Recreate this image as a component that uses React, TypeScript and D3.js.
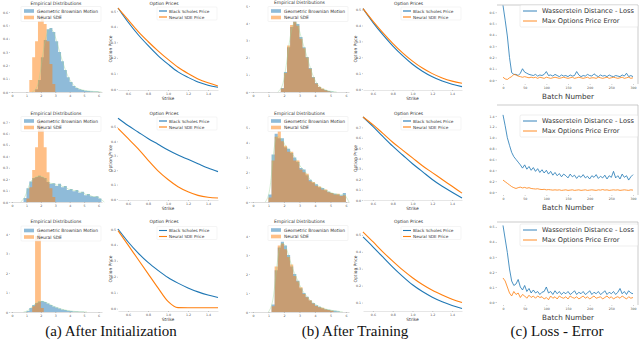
import * as d3 from "d3";
import { useEffect, useRef } from "react";

const BLUE = "#1f77b4";
const ORANGE = "#ff7f0e";
const FONT = "DejaVu Sans, sans-serif";

// ---- histograms (bin width 0.2, each series = first bin edge + bin heights) ----
const binWidth = 0.2;
const histXTicks = [0, 1, 2, 3, 4, 5, 6];

const gbmInit1Start = 1.6;
const gbmInit1 = [0.02, 0.09, 0.26, 0.39, 0.47, 0.48, 0.45, 0.38, 0.3, 0.23, 0.165, 0.11, 0.075, 0.045, 0.03, 0.02, 0.015, 0.01, 0.008, 0.005, 0.004, 0.003];
const sdeInit1Start = 1.2;
const sdeInit1 = [0.09, 0.26, 0.38, 0.53, 0.58, 0.51, 0.38, 0.21, 0.06];

const gbmInit2Start = 0.8;
const gbmInit2 = [0.035, 0.12, 0.18, 0.21, 0.22, 0.23, 0.22, 0.21, 0.175, 0.16, 0.165, 0.14, 0.16, 0.13, 0.14, 0.105, 0.115, 0.095, 0.105, 0.08, 0.09, 0.06, 0.07, 0.05, 0.045, 0.05, 0.03];
const sdeInit2Start = 1.0;
const sdeInit2 = [0.03, 0.13, 0.28, 0.48, 0.7, 0.67, 0.48, 0.26, 0.12, 0.044];

const gbmInit3Start = 1.0;
const gbmInit3 = [0.05, 0.2, 0.36, 0.46, 0.54, 0.56, 0.51, 0.44, 0.36, 0.28, 0.23, 0.18, 0.13, 0.1, 0.07, 0.05, 0.03, 0.02, 0.015, 0.01];
const sdeInit3Start = 1.4;
const sdeInit3 = [0.3, 3.9, 4.05, 0.2];

const gbmTrain1Start = 1.8;
const gbmTrain1 = [0.23, 1.16, 2.6, 3.78, 4.13, 3.95, 3.2, 2.6, 2.03, 1.4, 0.87, 0.52, 0.29, 0.17, 0.12, 0.06, 0.03];
const sdeTrain1Start = 1.8;
const sdeTrain1 = [0.2, 1.1, 2.7, 3.9, 4.1, 3.85, 3.1, 2.55, 2.0, 1.35, 0.85, 0.5, 0.3, 0.2, 0.1, 0.05];

const gbmTrain2Start = 1.0;
const gbmTrain2 = [0.5, 3.2, 4.6, 4.3, 4.3, 3.7, 3.6, 3.3, 3.0, 2.7, 2.3, 2.2, 1.8, 1.5, 1.3, 1.2, 1.0, 0.95, 0.8, 0.7, 0.6, 0.55, 0.5, 0.45, 0.6];
const sdeTrain2Start = 1.0;
const sdeTrain2 = [0.3, 2.8, 4.4, 4.8, 4.1, 3.8, 3.4, 3.4, 2.8, 2.8, 2.2, 2.0, 1.9, 1.4, 1.35, 1.1, 1.05, 0.85, 0.85, 0.65, 0.6, 0.5, 0.55, 0.4, 0.45];

const gbmTrain3Start = 1.2;
const gbmTrain3 = [0.4, 2.2, 3.4, 3.7, 3.5, 3.0, 2.4, 2.0, 1.65, 1.25, 1.0, 0.8, 0.6, 0.48, 0.36, 0.28, 0.2, 0.15, 0.12, 0.08, 0.06, 0.04];
const sdeTrain3Start = 1.2;
const sdeTrain3 = [0.3, 2.4, 3.5, 3.6, 3.3, 2.9, 2.5, 1.9, 1.6, 1.3, 0.95, 0.78, 0.62, 0.45, 0.32, 0.25, 0.22, 0.14, 0.1, 0.07];

// ---- option prices against strike ----
const strikes = [0.5, 0.6, 0.7, 0.8, 0.9, 1.0, 1.1, 1.2, 1.3, 1.4, 1.5];
const strikeTicks = [0.6, 0.8, 1.0, 1.2, 1.4];

const bsInit1 = [0.52, 0.43, 0.35, 0.28, 0.215, 0.16, 0.11, 0.075, 0.045, 0.025, 0.012];
const nsInit1 = [0.52, 0.445, 0.37, 0.305, 0.245, 0.19, 0.14, 0.1, 0.065, 0.04, 0.02];
const bsInit2 = [0.56, 0.51, 0.465, 0.42, 0.38, 0.34, 0.305, 0.275, 0.245, 0.215, 0.19];
const nsInit2 = [0.49, 0.42, 0.35, 0.27, 0.195, 0.135, 0.085, 0.05, 0.025, 0.012, 0.007];
const bsInit3 = [0.5, 0.42, 0.35, 0.29, 0.24, 0.195, 0.16, 0.13, 0.105, 0.085, 0.07];
const nsInit3 = [0.49, 0.4, 0.31, 0.22, 0.13, 0.045, 0.006, 0.005, 0.005, 0.005, 0.005];

const bsTrain1 = [0.506, 0.42, 0.342, 0.272, 0.21, 0.156, 0.112, 0.077, 0.05, 0.03, 0.015];
const nsTrain1 = [0.506, 0.428, 0.355, 0.288, 0.228, 0.176, 0.132, 0.097, 0.07, 0.05, 0.036];
const bsTrain2 = [0.8, 0.71, 0.613, 0.519, 0.434, 0.349, 0.274, 0.198, 0.132, 0.075, 0.019];
const nsTrain2 = [0.8, 0.726, 0.642, 0.557, 0.481, 0.406, 0.33, 0.264, 0.198, 0.132, 0.066];
const bsTrain3 = [0.488, 0.43, 0.37, 0.31, 0.255, 0.205, 0.165, 0.132, 0.105, 0.083, 0.065];
const nsTrain3 = [0.518, 0.46, 0.4, 0.345, 0.293, 0.247, 0.207, 0.173, 0.145, 0.12, 0.1];

// ---- training curves, one value every 5 batches ----
const batchStep = 5;
const batchTicks = [0, 50, 100, 150, 200, 250, 300];

const lossRun1 = [0.66, 0.53, 0.39, 0.2, 0.065, 0.05, 0.05, 0.04, 0.06, 0.1, 0.07, 0.06, 0.05, 0.045, 0.04, 0.05, 0.035, 0.045, 0.04, 0.05, 0.075, 0.04, 0.045, 0.035, 0.05, 0.04, 0.03, 0.045, 0.035, 0.04, 0.03, 0.045, 0.035, 0.04, 0.075, 0.045, 0.03, 0.04, 0.035, 0.05, 0.04, 0.035, 0.055, 0.04, 0.03, 0.045, 0.035, 0.04, 0.03, 0.045, 0.035, 0.03, 0.04, 0.035, 0.03, 0.045, 0.035, 0.06, 0.03, 0.04, 0.03];
const errRun1 = [0.025, 0.01, 0.005, 0.02, 0.03, 0.05, 0.045, 0.035, 0.03, 0.025, 0.03, 0.025, 0.02, 0.025, 0.02, 0.025, 0.015, 0.025, 0.02, 0.015, 0.025, 0.02, 0.015, 0.02, 0.025, 0.02, 0.015, 0.02, 0.025, 0.02, 0.015, 0.02, 0.025, 0.015, 0.02, 0.025, 0.02, 0.015, 0.02, 0.025, 0.015, 0.02, 0.02, 0.015, 0.025, 0.02, 0.015, 0.02, 0.025, 0.015, 0.02, 0.025, 0.02, 0.015, 0.02, 0.025, 0.015, 0.02, 0.025, 0.015, 0.02];

const lossRun2 = [1.42, 1.22, 1.0, 0.86, 0.73, 0.65, 0.6, 0.55, 0.5, 0.44, 0.5, 0.42, 0.47, 0.4, 0.45, 0.38, 0.43, 0.36, 0.41, 0.35, 0.4, 0.33, 0.38, 0.31, 0.36, 0.3, 0.34, 0.28, 0.33, 0.3, 0.26, 0.33, 0.28, 0.31, 0.25, 0.3, 0.27, 0.32, 0.26, 0.29, 0.24, 0.3, 0.27, 0.32, 0.25, 0.29, 0.26, 0.31, 0.24, 0.3, 0.27, 0.38, 0.26, 0.3, 0.24, 0.33, 0.27, 0.3, 0.22, 0.28, 0.32];
const errRun2 = [0.22, 0.19, 0.16, 0.13, 0.1, 0.08, 0.065, 0.08, 0.09, 0.075, 0.085, 0.07, 0.08, 0.065, 0.06, 0.055, 0.06, 0.05, 0.045, 0.05, 0.04, 0.045, 0.04, 0.035, 0.04, 0.035, 0.04, 0.03, 0.035, 0.04, 0.03, 0.035, 0.04, 0.03, 0.035, 0.04, 0.03, 0.035, 0.04, 0.03, 0.035, 0.04, 0.035, 0.03, 0.04, 0.035, 0.045, 0.035, 0.04, 0.03, 0.035, 0.04, 0.035, 0.04, 0.03, 0.035, 0.04, 0.035, 0.03, 0.04, 0.035];

const lossRun3 = [0.51, 0.42, 0.33, 0.22, 0.14, 0.11, 0.12, 0.15, 0.1, 0.08, 0.11, 0.07, 0.09, 0.06, 0.08, 0.06, 0.07, 0.05, 0.065, 0.07, 0.1, 0.06, 0.07, 0.05, 0.075, 0.055, 0.07, 0.05, 0.065, 0.055, 0.07, 0.05, 0.06, 0.075, 0.05, 0.065, 0.055, 0.07, 0.05, 0.06, 0.075, 0.05, 0.065, 0.055, 0.07, 0.05, 0.06, 0.075, 0.05, 0.065, 0.055, 0.07, 0.05, 0.065, 0.09, 0.055, 0.07, 0.05, 0.075, 0.06, 0.055];
const errRun3 = [0.16, 0.14, 0.1, 0.06, 0.04, 0.07, 0.05, 0.06, 0.03, 0.05, 0.04, 0.025, 0.045, 0.03, 0.04, 0.025, 0.04, 0.03, 0.035, 0.02, 0.03, 0.015, 0.04, 0.025, 0.035, 0.02, 0.04, 0.03, 0.025, 0.035, 0.02, 0.04, 0.03, 0.025, 0.035, 0.02, 0.03, 0.04, 0.025, 0.035, 0.02, 0.03, 0.04, 0.025, 0.03, 0.035, 0.02, 0.03, 0.04, 0.025, 0.035, 0.02, 0.03, 0.035, 0.025, 0.04, 0.03, 0.02, 0.035, 0.025, 0.03];

const captions = ["(a) After Initialization", "(b) After Training", "(c) Loss - Error"];

// ---- layout (pixels) ----
const histPanels = [
  { gbm: [gbmInit1Start, gbmInit1], sde: [sdeInit1Start, sdeInit1], left: 10, right: 102, top: 8, bottom: 92, titleY: 5, legendY: 6.5, xDomain: [-0.14, 6.24], yMax: 0.63, yTicks: [0, 0.1, 0.2, 0.3, 0.4, 0.5, 0.6], fmt: ".1f" },
  { gbm: [gbmInit2Start, gbmInit2], sde: [sdeInit2Start, sdeInit2], left: 10, right: 102, top: 117, bottom: 202, titleY: 114.5, legendY: 116.5, xDomain: [-0.14, 6.24], yMax: 0.745, yTicks: [0, 0.1, 0.2, 0.3, 0.4, 0.5, 0.6, 0.7], fmt: ".1f" },
  { gbm: [gbmInit3Start, gbmInit3], sde: [sdeInit3Start, sdeInit3], left: 10, right: 102, top: 225, bottom: 312, titleY: 222.5, legendY: 226, xDomain: [-0.14, 6.24], yMax: 4.46, yTicks: [0, 1, 2, 3, 4], fmt: "d" },
  { gbm: [gbmTrain1Start, gbmTrain1], sde: [sdeTrain1Start, sdeTrain1], left: 250, right: 349, top: 6, bottom: 92, titleY: 4, legendY: 6.5, xDomain: [-0.19, 6.2], yMax: 5, yTicks: [0, 1, 2, 3, 4, 5], fmt: "d" },
  { gbm: [gbmTrain2Start, gbmTrain2], sde: [sdeTrain2Start, sdeTrain2], left: 250, right: 349, top: 118, bottom: 202, titleY: 114.5, legendY: 116.5, xDomain: [-0.19, 6.2], yMax: 5.67, yTicks: [0, 1, 2, 3, 4, 5], fmt: "d" },
  { gbm: [gbmTrain3Start, gbmTrain3], sde: [sdeTrain3Start, sdeTrain3], left: 250, right: 349, top: 225, bottom: 312, titleY: 222.5, legendY: 225.5, xDomain: [-0.19, 6.2], yMax: 4.58, yTicks: [0, 1, 2, 3, 4], fmt: "d" },
];

const optionPanels = [
  { bs: bsInit1, ns: nsInit1, left: 118, right: 218, top: 8, bottom: 90, titleY: 5, legendY: 7, yDomain: [-0.006, 0.52], yTicks: [0, 0.1, 0.2, 0.3, 0.4, 0.5] },
  { bs: bsInit2, ns: nsInit2, left: 118, right: 218, top: 117, bottom: 200, titleY: 114.5, legendY: 117, yDomain: [-0.007, 0.569], yTicks: [0, 0.1, 0.2, 0.3, 0.4, 0.5] },
  { bs: bsInit3, ns: nsInit3, left: 118, right: 218, top: 227, bottom: 311, titleY: 222.5, legendY: 226.5, yDomain: [-0.015, 0.5125], yTicks: [0, 0.1, 0.2, 0.3, 0.4, 0.5] },
  { bs: bsTrain1, ns: nsTrain1, left: 363, right: 462, top: 8, bottom: 90, titleY: 5, legendY: 7, yDomain: [-0.006, 0.51], yTicks: [0, 0.1, 0.2, 0.3, 0.4, 0.5] },
  { bs: bsTrain2, ns: nsTrain2, left: 363, right: 462, top: 117, bottom: 200, titleY: 114.5, legendY: 117, yDomain: [0, 0.8], yTicks: [0, 0.1, 0.2, 0.3, 0.4, 0.5, 0.6, 0.7] },
  { bs: bsTrain3, ns: nsTrain3, left: 363, right: 462, top: 227, bottom: 311, titleY: 222.5, legendY: 226.5, yDomain: [0.05, 0.547], yTicks: [0.1, 0.2, 0.3, 0.4, 0.5] },
];

const lossPanels = [
  { loss: lossRun1, err: errRun1, top: 5, bottom: 84, yDomain: [-0.035, 0.664], yTicks: [0, 0.1, 0.2, 0.3, 0.4, 0.5, 0.6], legendY: 11 },
  { loss: lossRun2, err: errRun2, top: 105, bottom: 195, yDomain: [-0.055, 1.602], yTicks: [0, 0.2, 0.4, 0.6, 0.8, 1.0, 1.2, 1.4], legendY: 121 },
  { loss: lossRun3, err: errRun3, top: 222, bottom: 305, yDomain: [-0.02, 0.533], yTicks: [0, 0.1, 0.2, 0.3, 0.4, 0.5], legendY: 230 },
];

const captionX = [111, 355, 557];

type Sel = d3.Selection<SVGGElement, unknown, null, undefined>;

function styleAxis(ax: Sel, fs = 3.2) {
  ax.attr("font-family", FONT).attr("font-size", fs);
  ax.selectAll("text").attr("fill", "#555");
  ax.selectAll(".tick line").attr("stroke", "#888").attr("stroke-width", 0.4);
}

function drawHist(svg: Sel, p: any) {
  const x = d3.scaleLinear().domain(p.xDomain).range([p.left, p.right]);
  const y = d3.scaleLinear().domain([0, p.yMax]).range([p.bottom, p.top]);
  const g = svg.append("g");
  const area = d3
    .area<number[]>()
    .x((d) => x(d[0]))
    .y0(y(0))
    .y1((d) => y(d[1]))
    .curve(d3.curveStepAfter);
  const series: [any, string][] = [
    [p.gbm, BLUE],
    [p.sde, ORANGE],
  ];
  series.forEach(([[start, vals], color]) => {
    const pts = vals.map((v: number, i: number) => [start + i * binWidth, v]);
    pts.push([start + vals.length * binWidth, vals[vals.length - 1]]);
    g.append("path").attr("d", area(pts)).attr("fill", color).attr("fill-opacity", 0.5);
  });
  // faint density outline over the GBM sample
  const [gs, gv] = p.gbm;
  const kde = [[gs - binWidth, 0], ...gv.map((v: number, i: number) => [gs + (i + 0.5) * binWidth, v]), [gs + (gv.length + 1) * binWidth, 0]];
  const line = d3.line<number[]>().x((d) => x(d[0])).y((d) => y(d[1])).curve(d3.curveBasis);
  g.append("path").attr("d", line(kde)).attr("fill", "none").attr("stroke", "#9bd696").attr("stroke-width", 0.6).attr("opacity", 0.7);

  const ax = g
    .append("g")
    .attr("transform", `translate(0,${p.bottom})`)
    .call(d3.axisBottom(x).tickValues(histXTicks).tickSize(1).tickSizeOuter(0).tickPadding(1.5).tickFormat(d3.format("d")));
  styleAxis(ax);
  ax.select(".domain").attr("stroke", "#bbb").attr("stroke-width", 0.5);
  const ay = g
    .append("g")
    .attr("transform", `translate(${p.left},0)`)
    .call(d3.axisLeft(y).tickValues(p.yTicks).tickSize(1).tickPadding(1).tickFormat(d3.format(p.fmt)));
  styleAxis(ay);
  ay.select(".domain").remove();

  g.append("text")
    .attr("x", (p.left + p.right) / 2)
    .attr("y", p.titleY)
    .attr("text-anchor", "middle")
    .attr("font-family", FONT)
    .attr("font-size", 4.5)
    .attr("fill", "#333")
    .text("Empirical Distributions");

  // legend
  const lx = p.right - 81;
  const ly = p.legendY;
  const lg = g.append("g").attr("font-family", FONT).attr("font-size", 4.4).attr("fill", "#333");
  lg.append("rect").attr("x", lx).attr("y", ly).attr("width", 80).attr("height", 15).attr("rx", 1).attr("fill", "white").attr("fill-opacity", 0.8).attr("stroke", "#e2e2e2").attr("stroke-width", 0.4);
  [["Geometric Brownian Motion", BLUE], ["Neural SDE", ORANGE]].forEach(([label, color], i) => {
    const cy = ly + 4.5 + i * 6.5;
    lg.append("rect").attr("x", lx + 3).attr("y", cy - 1.8).attr("width", 10).attr("height", 3.6).attr("fill", color).attr("fill-opacity", 0.5);
    lg.append("text").attr("x", lx + 16).attr("y", cy + 1.6).text(label);
  });
}

function drawOption(svg: Sel, p: any) {
  const x = d3.scaleLinear().domain([0.5, 1.5]).range([p.left, p.right]);
  const y = d3.scaleLinear().domain(p.yDomain).range([p.bottom, p.top]);
  const g = svg.append("g");
  const line = d3
    .line<number>()
    .x((_, i) => x(strikes[i]))
    .y((d) => y(d))
    .curve(d3.curveMonotoneX);
  g.append("path").attr("d", line(p.bs)).attr("fill", "none").attr("stroke", BLUE).attr("stroke-width", 1.1);
  g.append("path").attr("d", line(p.ns)).attr("fill", "none").attr("stroke", ORANGE).attr("stroke-width", 1.1);

  const ax = g
    .append("g")
    .attr("transform", `translate(0,${p.bottom})`)
    .call(d3.axisBottom(x).tickValues(strikeTicks).tickSize(1).tickSizeOuter(0).tickPadding(1.5).tickFormat(d3.format(".1f")));
  styleAxis(ax);
  ax.select(".domain").attr("stroke", "#ccc").attr("stroke-width", 0.5);
  const ay = g
    .append("g")
    .attr("transform", `translate(${p.left},0)`)
    .call(d3.axisLeft(y).tickValues(p.yTicks).tickSize(1).tickPadding(1).tickFormat(d3.format(".1f")));
  styleAxis(ay);
  ay.select(".domain").remove();

  const txt = (sel: any) => sel.attr("font-family", FONT).attr("font-size", 4.4).attr("fill", "#333").attr("text-anchor", "middle");
  g.append("text").call(txt).attr("x", (p.left + p.right) / 2 - 4).attr("y", p.titleY).text("Option Prices");
  g.append("text").call(txt).attr("x", (p.left + p.right) / 2).attr("y", p.bottom + 10).text("Strike");
  g.append("text")
    .call(txt)
    .attr("transform", `translate(${p.left - 6},${(p.top + p.bottom) / 2}) rotate(-90)`)
    .text("Option Price");

  const lx = p.right - 61;
  const ly = p.legendY;
  const lg = g.append("g").attr("font-family", FONT).attr("font-size", 4.2).attr("fill", "#333");
  lg.append("rect").attr("x", lx).attr("y", ly).attr("width", 60).attr("height", 13).attr("rx", 1).attr("fill", "white").attr("fill-opacity", 0.8).attr("stroke", "#e6e6e6").attr("stroke-width", 0.4);
  [["Black Scholes Price", BLUE], ["Neural SDE Price", ORANGE]].forEach(([label, color], i) => {
    const cy = ly + 4 + i * 6;
    lg.append("line").attr("x1", lx + 2).attr("x2", lx + 10).attr("y1", cy).attr("y2", cy).attr("stroke", color).attr("stroke-width", 1.1);
    lg.append("text").attr("x", lx + 12).attr("y", cy + 1.5).text(label);
  });
}

function drawLoss(svg: Sel, p: any) {
  const x = d3.scaleLinear().domain([0, 300]).range([503, 633]);
  const y = d3.scaleLinear().domain(p.yDomain).range([p.bottom, p.top]);
  const g = svg.append("g");
  g.append("path").attr("d", `M497,${p.top}H638V${p.bottom}`).attr("fill", "none").attr("stroke", "#b5b5b5").attr("stroke-width", 0.7);
  const line = d3
    .line<number>()
    .x((_, i) => x(i * batchStep))
    .y((d) => y(d));
  g.append("path").attr("d", line(p.loss)).attr("fill", "none").attr("stroke", BLUE).attr("stroke-width", 0.8);
  g.append("path").attr("d", line(p.err)).attr("fill", "none").attr("stroke", ORANGE).attr("stroke-width", 0.8);

  const ax = g
    .append("g")
    .attr("transform", `translate(0,${p.bottom})`)
    .call(d3.axisBottom(x).tickValues(batchTicks).tickSize(1).tickSizeOuter(0).tickPadding(1.5).tickFormat(d3.format("d")));
  styleAxis(ax);
  ax.select(".domain").remove();
  const ay = g
    .append("g")
    .attr("transform", `translate(497,0)`)
    .call(d3.axisLeft(y).tickValues(p.yTicks).tickSize(1.5).tickPadding(1).tickFormat(d3.format(".1f")));
  styleAxis(ay);
  ay.select(".domain").remove();

  g.append("text")
    .attr("x", 568)
    .attr("y", p.bottom + 14.5)
    .attr("text-anchor", "middle")
    .attr("font-family", FONT)
    .attr("font-size", 7.2)
    .attr("fill", "#333")
    .text("Batch Number");

  const lg = g.append("g").attr("font-family", FONT).attr("font-size", 6.6).attr("fill", "#333");
  lg.append("rect").attr("x", 520).attr("y", p.legendY - 6).attr("width", 118).attr("height", 22).attr("rx", 1.5).attr("fill", "white").attr("fill-opacity", 0.85).attr("stroke", "#dcdcdc").attr("stroke-width", 0.5);
  [["Wasserstein Distance - Loss", BLUE], ["Max Options Price Error", ORANGE]].forEach(([label, color], i) => {
    const cy = p.legendY + i * 10;
    lg.append("line").attr("x1", 523).attr("x2", 537).attr("y1", cy).attr("y2", cy).attr("stroke", color).attr("stroke-width", 0.9);
    lg.append("text").attr("x", 542).attr("y", cy + 2.3).text(label);
  });
}

export default function App() {
  const ref = useRef<SVGSVGElement>(null);
  useEffect(() => {
    const root = d3.select(ref.current);
    root.selectAll("*").remove();
    const svg = root.append("g") as unknown as Sel;
    histPanels.forEach((p) => drawHist(svg, p));
    optionPanels.forEach((p) => drawOption(svg, p));
    lossPanels.forEach((p) => drawLoss(svg, p));
    captions.forEach((c, i) => {
      svg
        .append("text")
        .attr("x", captionX[i])
        .attr("y", 336)
        .attr("text-anchor", "middle")
        .attr("font-family", "Liberation Serif, Times New Roman, serif")
        .attr("font-size", 15)
        .attr("fill", "#111")
        .text(c);
    });
  }, []);

  return (
    <svg
      ref={ref}
      width={640}
      height={344}
      style={{ position: "absolute", left: 0, top: 0, background: "white" }}
    />
  );
}
